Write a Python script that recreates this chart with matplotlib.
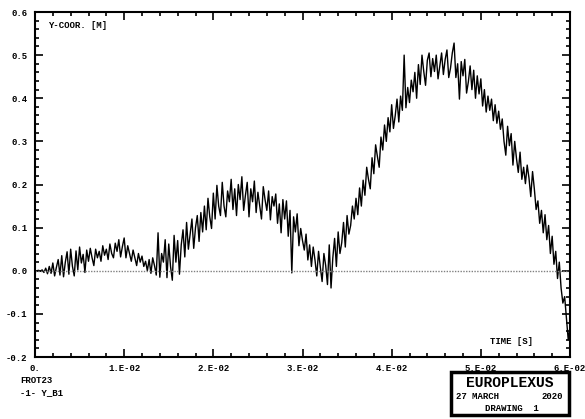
import numpy as np
import matplotlib.pyplot as plt
from matplotlib.ticker import MultipleLocator, FixedLocator, FixedFormatter
from matplotlib.patches import Rectangle

# Y coordinate of node B1, one row per millisecond (step 2.E-04 s)
y_b1 = [
    0.000, 0.000, 0.001, -0.001, 0.002,
    -0.004, 0.006, -0.007, 0.010, -0.006,
    0.018, -0.012, 0.008, 0.026, -0.010,
    0.035, -0.014, 0.020, 0.044, -0.008,
    0.050, 0.010, -0.012, 0.046, 0.002,
    0.055, 0.018, 0.038, -0.004, 0.048,
    0.022, 0.052, 0.030, 0.012, 0.050,
    0.030, 0.045, 0.022, 0.058, 0.036,
    0.050, 0.026, 0.062, 0.040, 0.030,
    0.064, 0.045, 0.072, 0.032, 0.056,
    0.076, 0.030, 0.058, 0.040, 0.022,
    0.048, 0.030, 0.012, 0.040, 0.020,
    0.034, 0.010, 0.022, 0.000, 0.026,
    -0.006, 0.030, 0.012, -0.010, 0.088,
    -0.015, 0.040, 0.020, 0.072, -0.016,
    0.062, 0.010, -0.022, 0.082, 0.020,
    0.070, -0.008, 0.060, 0.095, 0.032,
    0.112, 0.050, 0.085, 0.120, 0.052,
    0.100, 0.128, 0.068, 0.135, 0.090,
    0.150, 0.095, 0.168, 0.125, 0.098,
    0.180, 0.120, 0.198, 0.150, 0.128,
    0.205, 0.150, 0.125, 0.185, 0.160,
    0.212, 0.142, 0.190, 0.128, 0.200,
    0.165, 0.218, 0.140, 0.175, 0.205,
    0.125, 0.190, 0.160, 0.208, 0.135,
    0.182, 0.150, 0.120, 0.195, 0.165,
    0.140, 0.185, 0.118, 0.172, 0.150,
    0.178, 0.110, 0.155, 0.088, 0.165,
    0.120, 0.162, 0.080, 0.140, -0.005,
    0.125, 0.090, 0.132, 0.058, 0.098,
    0.070, 0.048, 0.085, 0.025, 0.060,
    0.010, 0.055, 0.025, -0.012, 0.045,
    0.008, -0.025, 0.040, 0.012, -0.032,
    0.060, -0.040, 0.030, 0.075, 0.010,
    0.090, 0.040, 0.065, 0.112, 0.055,
    0.128, 0.085, 0.105, 0.150, 0.120,
    0.168, 0.130, 0.192, 0.150, 0.210,
    0.175, 0.240, 0.212, 0.190, 0.262,
    0.225, 0.292, 0.265, 0.240, 0.310,
    0.280, 0.338, 0.300, 0.355, 0.322,
    0.385, 0.330, 0.360, 0.398, 0.345,
    0.405, 0.372, 0.500, 0.378, 0.425,
    0.390, 0.442, 0.415, 0.460, 0.400,
    0.478, 0.432, 0.500, 0.462, 0.430,
    0.488, 0.505, 0.450, 0.492, 0.462,
    0.500, 0.445, 0.475, 0.505, 0.455,
    0.490, 0.512, 0.448, 0.470, 0.505,
    0.528, 0.448, 0.480, 0.398, 0.485,
    0.452, 0.490, 0.412, 0.438, 0.475,
    0.420, 0.465, 0.400, 0.452, 0.410,
    0.445, 0.382, 0.420, 0.368, 0.405,
    0.372, 0.398, 0.348, 0.385, 0.342,
    0.370, 0.328, 0.352, 0.300, 0.268,
    0.335, 0.290, 0.318, 0.245, 0.300,
    0.260, 0.228, 0.275, 0.212, 0.240,
    0.202, 0.245, 0.215, 0.172, 0.230,
    0.190, 0.142, 0.162, 0.110, 0.140,
    0.088, 0.130, 0.072, 0.105, 0.040,
    0.080, 0.015, 0.045, -0.018, 0.020,
    -0.040, -0.075, -0.060, -0.110, -0.160,
    -0.130,
]
time = np.linspace(0.0, 0.06, len(y_b1))

x_ticks = [0.0, 0.01, 0.02, 0.03, 0.04, 0.05, 0.06]
x_labels = ["0.", "1.E-02", "2.E-02", "3.E-02", "4.E-02", "5.E-02", "6.E-02"]
y_ticks = [-0.2, -0.1, 0.0, 0.1, 0.2, 0.3, 0.4, 0.5, 0.6]
y_labels = ["-0.2", "-0.1", "0.0", "0.1", "0.2", "0.3", "0.4", "0.5", "0.6"]

font = {"family": "Liberation Mono", "weight": "bold"}

W, H = 585, 419
fig = plt.figure(figsize=(W / 100, H / 100), dpi=100)
ax = fig.add_axes([35 / W, 1 - 357 / H, 535 / W, 345 / H])

ax.plot(time, y_b1, color="black", lw=1.0)
ax.plot([0.0, 0.06], [0.0, 0.0], color="gray", lw=1.0, ls=(0, (1, 1)))

ax.set_xlim(0.0, 0.06)
ax.set_ylim(-0.2, 0.6)

ax.xaxis.set_major_locator(FixedLocator(x_ticks))
ax.xaxis.set_major_formatter(FixedFormatter(x_labels))
ax.xaxis.set_minor_locator(MultipleLocator(0.002))
ax.yaxis.set_major_locator(FixedLocator(y_ticks))
ax.yaxis.set_major_formatter(FixedFormatter(y_labels))
ax.yaxis.set_minor_locator(MultipleLocator(0.02))

ax.tick_params(which="both", direction="in", top=True, right=True, width=1.2,
               labelsize=6.5, colors="black")
ax.tick_params(which="major", length=6)
ax.tick_params(which="minor", length=3)
ax.tick_params(axis="x", pad=5)
ax.tick_params(axis="y", pad=5.5)
for lab in ax.get_xticklabels() + ax.get_yticklabels():
    lab.set_fontfamily("Liberation Mono")
    lab.set_fontweight("bold")
for sp in ax.spines.values():
    sp.set_linewidth(1.5)

# axis titles placed inside the frame
fig.text(48 / W, 1 - 25 / H, "Y-COOR. [M]", fontsize=6.5, va="center", ha="left", **font)
fig.text(512 / W, 1 - 342 / H, "TIME [S]", fontsize=6.5, va="center", ha="center", **font)

# curve legend under the plot
fig.text(20 / W, 1 - 380 / H, "FROT23", fontsize=6.5, va="center", ha="left", **font)
fig.text(20 / W, 1 - 393 / H, "-1- Y_B1", fontsize=6.5, va="center", ha="left", **font)

# title block
box = Rectangle((451 / W, 1 - 415 / H), 118 / W, 43 / H, transform=fig.transFigure,
                fill=False, edgecolor="black", lw=2.5)
fig.add_artist(box)
fig.text(510 / W, 1 - 383 / H, "EUROPLEXUS", fontsize=10.5, va="center", ha="center", **font)
fig.text(456 / W, 1 - 396 / H, "27 MARCH", fontsize=6.5, va="center", ha="left", **font)
fig.text(563 / W, 1 - 396 / H, "2020", fontsize=6.5, va="center", ha="right", **font)
fig.text(512 / W, 1 - 408 / H, "DRAWING  1", fontsize=6.5, va="center", ha="center", **font)

fig.savefig("out.png", dpi=100)
